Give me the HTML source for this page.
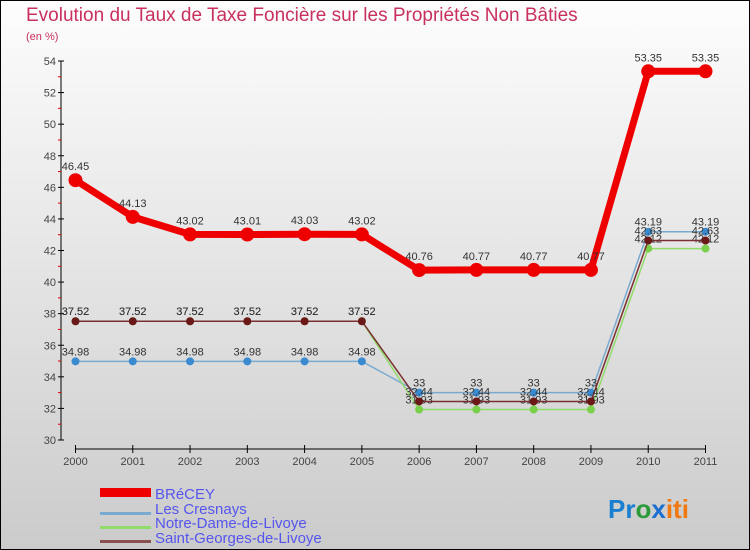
<!DOCTYPE html>
<html><head><meta charset="utf-8"><style>
body{margin:0}
#c{width:750px;height:550px;position:relative;overflow:hidden;font-family:"Liberation Sans",sans-serif}
</style></head><body>
<div id="c">
<svg id="s" width="750" height="550" xmlns="http://www.w3.org/2000/svg">
<defs><linearGradient id="bg" x1="0" y1="0" x2="0" y2="1"><stop offset="0" stop-color="#fdfdfd"/><stop offset="1" stop-color="#cbcbcb"/></linearGradient></defs>
<rect x="0.5" y="0.5" width="749" height="549" fill="url(#bg)" stroke="#000"/>
<text x="26" y="21" font-size="19" fill="#c8305e">Evolution du Taux de Taxe Foncière sur les Propriétés Non Bâties</text>
<text x="26" y="40" font-size="11" fill="#c8305e">(en %)</text>
<g id="axes"></g><g id="series"></g>
<g>
<rect x="100" y="488" width="51" height="9" fill="#e00"/>
<text x="155" y="499" font-size="15" fill="#55e">BRéCEY</text>
<rect x="100" y="512" width="51" height="3" fill="#7aaad0"/>
<text x="155" y="514" font-size="15" fill="#55e">Les Cresnays</text>
<rect x="100" y="526" width="51" height="3" fill="#8fdc6a"/>
<text x="155" y="528" font-size="15" fill="#55e">Notre-Dame-de-Livoye</text>
<rect x="100" y="540" width="51" height="3" fill="#8a5050"/>
<text x="155" y="543" font-size="15" fill="#55e">Saint-Georges-de-Livoye</text>
</g>
<text x="608" y="518" font-size="26" font-weight="bold"><tspan fill="#1a7fd0">Pr</tspan><tspan fill="#2a9a3a">o</tspan><tspan fill="#1a6fd0">x</tspan><tspan fill="#f07a10">iti</tspan></text>
</svg></div>
<script>
const years=[2000,2001,2002,2003,2004,2005,2006,2007,2008,2009,2010,2011];
const brecey=[46.45,44.13,43.02,43.01,43.03,43.02,40.76,40.77,40.77,40.77,53.35,53.35];
const cresnays=[34.98,34.98,34.98,34.98,34.98,34.98,33,33,33,33,43.19,43.19];
const notreDame=[37.52,37.52,37.52,37.52,37.52,37.52,31.93,31.93,31.93,31.93,42.12,42.12];
const saintGeorges=[37.52,37.52,37.52,37.52,37.52,37.52,32.44,32.44,32.44,32.44,42.63,42.63];
const yTicks=[30,32,34,36,38,40,42,44,46,48,50,52,54];
const NS="http://www.w3.org/2000/svg";
const xs=i=>75.5+i*(705.5-75.5)/(years.length-1);
const ys=v=>440-(v-30)*(440-61)/24;
function mk(t,a,p){const e=document.createElementNS(NS,t);for(const k in a)e.setAttribute(k,a[k]);p.appendChild(e);return e;}
const ax=document.getElementById('axes');
let l=mk('line',{x1:61,y1:61,x2:61,y2:440,stroke:'#000'},ax);


yTicks.forEach(v=>{
 mk('line',{x1:58,x2:64,y1:ys(v),y2:ys(v),stroke:'#000'},ax);
 mk('line',{x1:58,x2:61,y1:ys(v+1),y2:ys(v+1),stroke:v<54?'#d00':'none'},ax);
 const t=mk('text',{x:56,y:ys(v)+4,'font-size':11,'text-anchor':'end',fill:'#444'},ax);t.textContent=v;
 
 
});
l=mk('line',{x1:75,y1:449,x2:706,y2:449,stroke:'#000'},ax);


years.forEach((y,i)=>{
 mk('line',{x1:xs(i),x2:xs(i),y1:445,y2:453,stroke:'#000'},ax);
 const t=mk('text',{x:xs(i),y:465,'font-size':11,'text-anchor':'middle',fill:'#444'},ax);t.textContent=y;
 
 
});
const sg=document.getElementById('series');
function draw(d,name,col,w,r,dot,labDy){
 const g=mk('g',{},sg);
 
 
 const p=mk('polyline',{points:d.map((v,i)=>xs(i)+','+ys(v)).join(' '),fill:'none',stroke:col,'stroke-width':w,'stroke-linejoin':'round'},g);
 
 
 d.forEach((v,i)=>{
  const c=mk('circle',{cx:xs(i),cy:ys(v),r:r,fill:dot},g);
  
  
  const t=mk('text',{x:xs(i),y:ys(v)+labDy,'font-size':11,'text-anchor':'middle',fill:'#333'},g);t.textContent=v;
  
  
 });
}
draw(cresnays,'cresnays','#7aaad0',1.5,4,'#3a8ad0',-6);
draw(notreDame,'notre-dame','#8fdc6a',1.5,4,'#7ad04a',-6);
draw(saintGeorges,'saint-georges','#7a3030',1.5,4,'#6a1818',-6);
draw(brecey,'brecey','#ee0000',7,7,'#ee0000',-10);
</script>
</body></html>
